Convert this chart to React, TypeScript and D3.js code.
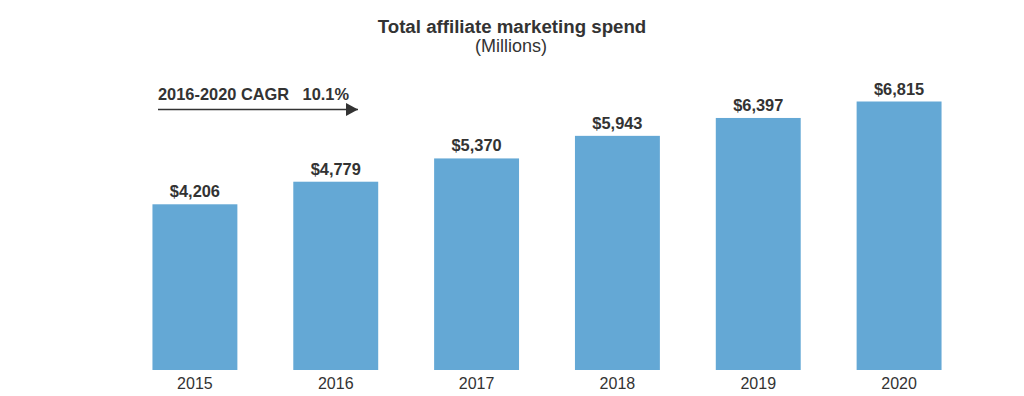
import React from "react";
import * as d3 from "d3";

const years = ["2015", "2016", "2017", "2018", "2019", "2020"];
const spend = [4206, 4779, 5370, 5943, 6397, 6815];
const title = "Total affiliate marketing spend";
const subtitle = "(Millions)";
const cagrLabel = "2016-2020 CAGR";
const cagrValue = "10.1%";

export default function App() {
  const W = 1024, H = 396;
  const x = d3.scaleBand<string>().domain(years).range([124.5, 969.5]).paddingInner(0.397).paddingOuter(0.1985);
  const y = d3.scaleLinear().domain([0, 6815]).range([370, 101.5]);
  const fmt = d3.format("$,");
  const font = "'Liberation Sans', Arial, sans-serif";
  return (
    <svg width={W} height={H} style={{ position: "absolute", left: 0, top: 0, background: "#fff" }} fontFamily={font}>
      <defs>
        <marker id="ah" viewBox="0 0 12 13" refX="12" refY="6.5" markerWidth="12" markerHeight="13" markerUnits="userSpaceOnUse" orient="auto">
          <path d="M0,0 L12,6.5 L0,13 Z" fill="#333" />
        </marker>
      </defs>
      <text x={512} y={33} textAnchor="middle" fontSize={18.7} fontWeight="bold" fill="#333">{title}</text>
      <text x={511} y={52} textAnchor="middle" fontSize={18} fill="#333">{subtitle}</text>
      <text x={158} y={100} fontSize={16.4} fontWeight="bold" fill="#333">{cagrLabel}</text>
      <text x={349} y={100} fontSize={16.4} fontWeight="bold" fill="#333" textAnchor="end">{cagrValue}</text>
      <line x1={158} x2={358} y1={109.5} y2={109.5} stroke="#333" strokeWidth={1.5} markerEnd="url(#ah)" />
      {years.map((yr, i) => (
        <g key={yr}>
          <rect x={x(yr)} y={y(spend[i])} width={x.bandwidth()} height={y(0) - y(spend[i])} fill="#64A8D5" />
          <text x={(x(yr) as number) + x.bandwidth() / 2} y={y(spend[i]) - 7} textAnchor="middle" fontSize={16.4} fontWeight="bold" fill="#333">{fmt(spend[i])}</text>
          <text x={(x(yr) as number) + x.bandwidth() / 2} y={389} textAnchor="middle" fontSize={16} fill="#333">{yr}</text>
        </g>
      ))}
    </svg>
  );
}
